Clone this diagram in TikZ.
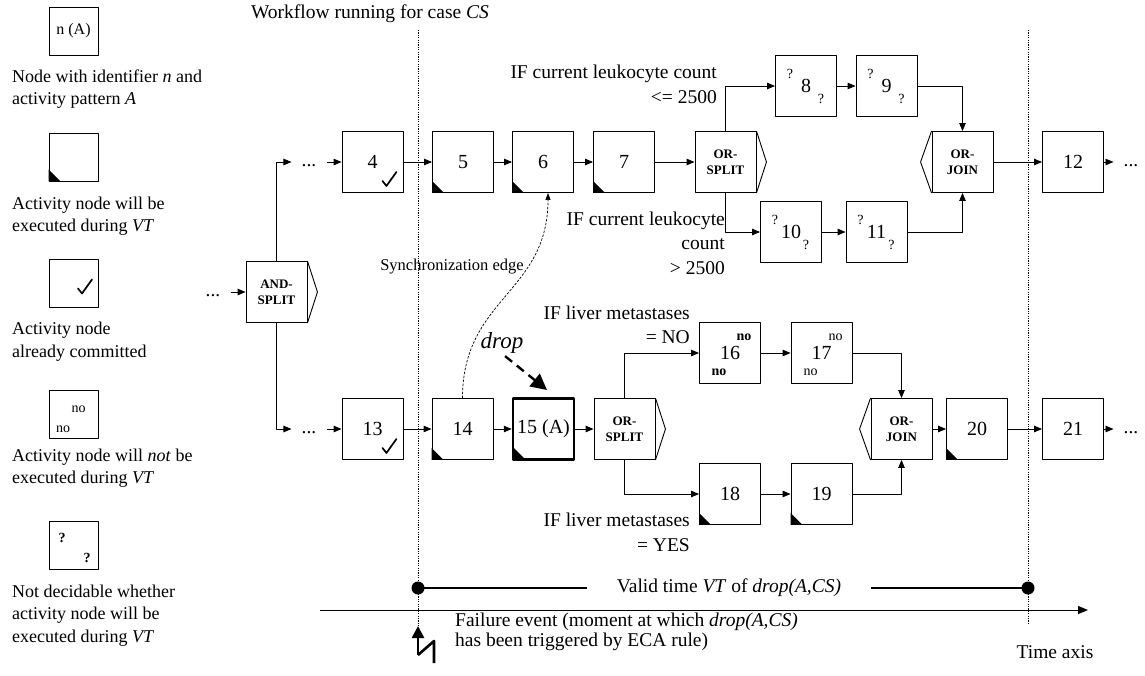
\documentclass[tikz,border=0pt]{standalone}
\usepackage{fontspec}
\setmainfont{Liberation Serif}
\usetikzlibrary{arrows.meta}

\newcommand{\fsnum}{\fontsize{20}{24}\selectfont}
\newcommand{\fslab}{\fontsize{19.5}{24.5}\selectfont}
\newcommand{\fskey}{\fontsize{18}{22.5}\selectfont}
\newcommand{\fsgate}{\fontsize{13}{16}\selectfont\bfseries}
\newcommand{\fsmark}{\fontsize{14}{14}\selectfont}
\newcommand{\fssync}{\fontsize{16.5}{20}\selectfont}
\newcommand{\fsdrop}{\fontsize{23}{26}\selectfont\itshape}
\newcommand{\fsfail}{\fontsize{19.5}{20}\selectfont}
\tikzset{
  every picture/.style = {line join=round},
  box/.style       = {draw, line width=0.9pt, minimum width=61pt, minimum height=61pt, inner sep=0pt, font=\fsnum},
  keybox/.style    = {draw, line width=0.9pt, minimum width=49pt, minimum height=48pt, inner sep=0pt, font=\fontsize{16}{16}\selectfont},
  gate/.style      = {box, font=\fsgate, align=center},
  lab/.style       = {font=\fslab, align=right, inner sep=0pt},
  keytext/.style   = {font=\fskey, align=left, anchor=west, inner sep=0pt},
  smallmark/.style = {font=\fsmark, inner sep=0pt},
  dotsn/.style     = {font=\fslab, inner xsep=10pt, inner ysep=0pt, text height=9pt, text depth=0pt},
  flow/.style      = {line width=0.9pt, -{Triangle[length=8pt,width=6.5pt]}},
  sync/.style      = {line width=0.7pt, dash pattern=on 2.5pt off 1.5pt, -{Triangle[length=7pt,width=5pt]}},
  droparrow/.style = {line width=2.4pt, dash pattern=on 9pt off 6pt, shorten <=4pt, -{Triangle[length=16pt,width=16pt]}},
  timeline/.style  = {line width=0.8pt, dash pattern=on 1.2pt off 1.2pt},
  vtspan/.style    = {line width=2.4pt},
  timeaxis/.style  = {line width=1pt, -{Triangle[length=10pt,width=8pt]}},
  bolt/.style      = {line width=2.6pt},
  tick/.pic        = {\draw[line width=1.7pt, line cap=round] (-7,1) -- (-3,6) -- (7,-8);},
}

\begin{document}
\begin{tikzpicture}[x=1pt, y=-1pt]
  \useasboundingbox (0,0) rectangle (1145,675);
  \def\ya{162}\def\yb{429}    % centre lines of the upper and lower branch
  \def\tA{418}\def\tB{1028}   % start and end of VT on the time axis

  % ---------- legend ---------------------------------------------------------
  \node[keybox] (key1) at (73.5,31) {n (A)};
  \node[keytext] (key1t) at (12,89) {Node with identifier \textit{n} and\\activity pattern \textit{A}};
  \node[keybox] (key2) at (73.5,157) {};
  \fill (key2.south west) -- ++(12pt,0pt) -- ++(-12pt,12pt) -- cycle;
  \node[keytext] (key2t) at (12,216) {Activity node will be\\executed during \textit{VT}};
  \node[keybox] (key3) at (73.5,283) {};
  \pic at (85,287.5) {tick};
  \node[keytext] (key3t) at (12,341.5) {Activity node\\already committed};
  \node[keybox] (key4) at (73.5,414.5) {};
  \node[smallmark] (key4a) at (78.5,409) {no};
  \node[smallmark] (key4b) at (63,429) {no};
  \node[keytext] (key4t) at (12,468) {Activity node will \textit{not} be\\executed during \textit{VT}};
  \node[keybox] (key5) at (73.5,545) {};
  \node[smallmark, font=\fsmark\bfseries] (key5a) at (62,538) {?};
  \node[smallmark, font=\fsmark\bfseries] (key5b) at (87,558) {?};
  \node[keytext] (key5t) at (12,615.5) {Not decidable whether\\activity node will be\\executed during \textit{VT}};

  % ---------- time frame of VT -----------------------------------------------
  \node[lab] (title) at (370,14) {Workflow running for case \textit{CS}};
  \coordinate (topA) at (\tA,30); \coordinate (botA) at (\tA,628);
  \coordinate (topB) at (\tB,30); \coordinate (botB) at (\tB,625);
  \draw[timeline] (topA) -- (botA);
  \draw[timeline] (topB) -- (botB);

  % ---------- split into the two branches ------------------------------------
  \node[dotsn] (dotsL) at (213,292) {...};
  \node[gate] (andsplit) at (276.5,292) {AND-\\SPLIT};

  % upper branch
  \node[dotsn] (dotsA) at (309,\ya) {...};
  \node[box] (n4) at (372.5,\ya) {4};
  \node[box] (n5) at (463,\ya) {5};
  \node[box] (n6) at (543,\ya) {6};
  \node[box] (n7) at (624,\ya) {7};
  \node[gate] (osplitA) at (725.5,\ya) {OR-\\SPLIT};
  \node[box] (n8) at (806,86) {8};
  \node[box] (n9) at (886.5,86) {9};
  \node[box] (n10) at (791,232) {10};
  \node[box] (n11) at (876.5,232) {11};
  \node[gate] (ojoinA) at (962.5,\ya) {OR-\\JOIN};
  \node[box] (n12) at (1073,\ya) {12};
  \node[dotsn] (dots12) at (1131,\ya) {...};

  % lower branch
  \node[dotsn] (dotsB) at (309,\yb) {...};
  \node[box] (n13) at (372.5,\yb) {13};
  \node[box] (n14) at (462.5,\yb) {14};
  \node[box, line width=2.5pt] (n15) at (543.5,\yb) {15 (A)};
  \node[gate] (osplitB) at (624.5,\yb) {OR-\\SPLIT};
  \node[box] (n16) at (730,353) {16};
  \node[box] (n17) at (821.5,353) {17};
  \node[box] (n18) at (730,494) {18};
  \node[box] (n19) at (821.5,494) {19};
  \node[gate] (ojoinB) at (901.5,\yb) {OR-\\JOIN};
  \node[box] (n20) at (977,\yb) {20};
  \node[box] (n21) at (1073,\yb) {21};
  \node[dotsn] (dots21) at (1131,\yb) {...};

  % chevrons of the split and join gates
  \foreach \g in {andsplit, osplitA, osplitB}
    \draw[line width=0.9pt] (\g.north east) -- ([xshift=10pt]\g.east) -- (\g.south east);
  \foreach \g in {ojoinA, ojoinB}
    \draw[line width=0.9pt] (\g.north west) -- ([xshift=-11pt]\g.west) -- (\g.south west);

  % state of the activity nodes
  \foreach \n in {n5,n6,n7,n14,n18,n19,n20}
    \fill (\n.south west) -- ++(12pt,0pt) -- ++(-12pt,12pt) -- cycle;
  \fill ([shift={(1.5pt,1.5pt)}]n15.south west) -- ++(12pt,0pt) -- ++(-12pt,12pt) -- cycle;
  \foreach \n in {n4,n13}
    \pic at ([shift={(-14pt,13pt)}]\n.south east) {tick};
  \foreach \n in {n8,n9,n10,n11} {
    \node[smallmark] (\n-q1) at ([shift={(-16pt,12pt)}]\n.center) {?};
    \node[smallmark] (\n-q2) at ([shift={(15pt,-13pt)}]\n.center) {?};
  }
  \node[smallmark, font=\fsmark\bfseries] (n16-no1) at ([shift={(14pt,16pt)}]n16.center) {no};
  \node[smallmark, font=\fsmark\bfseries] (n16-no2) at ([shift={(-11pt,-19pt)}]n16.center) {no};
  \node[smallmark] (n17-no1) at ([shift={(14pt,16pt)}]n17.center) {no};
  \node[smallmark] (n17-no2) at ([shift={(-11pt,-19pt)}]n17.center) {no};

  % control flow
  \foreach \a/\b in {dotsL/andsplit, dotsA/n4, n4/n5, n5/n6, n6/n7, n7/osplitA, n8/n9,
                     n10/n11, ojoinA/n12, n12/dots12, dotsB/n13, n13/n14, n14/n15,
                     n15/osplitB, n16/n17, n18/n19, ojoinB/n20, n20/n21, n21/dots21}
    \draw[flow] (\a) -- (\b);
  \draw[flow] (andsplit.north) |- (dotsA);
  \draw[flow] (andsplit.south) |- (dotsB);
  \draw[flow] (osplitA.north) |- (n8);
  \draw[flow] (osplitA.south) |- (n10);
  \draw[flow] (n9) -| (ojoinA.north);
  \draw[flow] (n11) -| (ojoinA.south);
  \draw[flow] (osplitB.north) |- (n16);
  \draw[flow] (osplitB.south) |- (n18);
  \draw[flow] (n17) -| (ojoinB.north);
  \draw[flow] (n19) -| (ojoinB.south);

  % branch conditions
  \node[lab, anchor=east] (condA1) at (717,84.5) {IF current leukocyte count\\<= 2500};
  \node[lab, anchor=east] (condA2) at (725,243) {IF current leukocyte\\count\\> 2500};
  \node[lab, anchor=east] (condB1) at (690,325) {IF liver metastases\\= NO};
  \node[lab, anchor=east] (condB2) at (690,532.5) {IF liver metastases\\= YES};

  % synchronization edge and the dropped node
  \node[font=\fssync, inner sep=0pt] (synclbl) at (452,267) {Synchronization edge};
  \draw[sync] (n14.north) .. controls +(0,-100) and +(0,100) .. ([xshift=5pt]n6.south);
  \node[font=\fsdrop, inner sep=0pt] (droplbl) at (502,343) {drop};
  \coordinate (droptip) at (547,390);
  \draw[droparrow] (droplbl.south) -- (droptip);

  % ---------- valid time and time axis ---------------------------------------
  \coordinate (vtS) at (\tA,588); \coordinate (vtE) at (\tB,588);
  \node[lab, inner xsep=30pt] (vtlbl) at (729,588) {Valid time \textit{VT} of \textit{drop(A,CS)}};
  \draw[vtspan] (vtS) -- (vtlbl);
  \draw[vtspan] (vtlbl) -- (vtE);
  \fill (vtS) circle (6.5);
  \fill (vtE) circle (6.5);

  \coordinate (axL) at (320,610); \coordinate (axR) at (1088,610);
  \draw[timeaxis] (axL) -- (axR);
  \node[lab] (axislbl) at (1055,652) {Time axis};

  % failure event: arrow with lightning stroke
  \coordinate (fb0) at (\tA,626); \coordinate (fb1) at (\tA,655);
  \coordinate (fb2) at (434,641); \coordinate (fb3) at (434,663);
  \draw[bolt, -{Triangle[length=12pt,width=12pt]}] (fb1) -- (fb0);
  \draw[bolt] (fb1) -- (fb2) -- (fb3);
  \node[font=\fsfail, align=left, anchor=west, inner sep=0pt] (faillbl) at (455,632)
    {Failure event (moment at which \textit{drop(A,CS)}\\has been triggered by ECA rule)};
\end{tikzpicture}
\end{document}
